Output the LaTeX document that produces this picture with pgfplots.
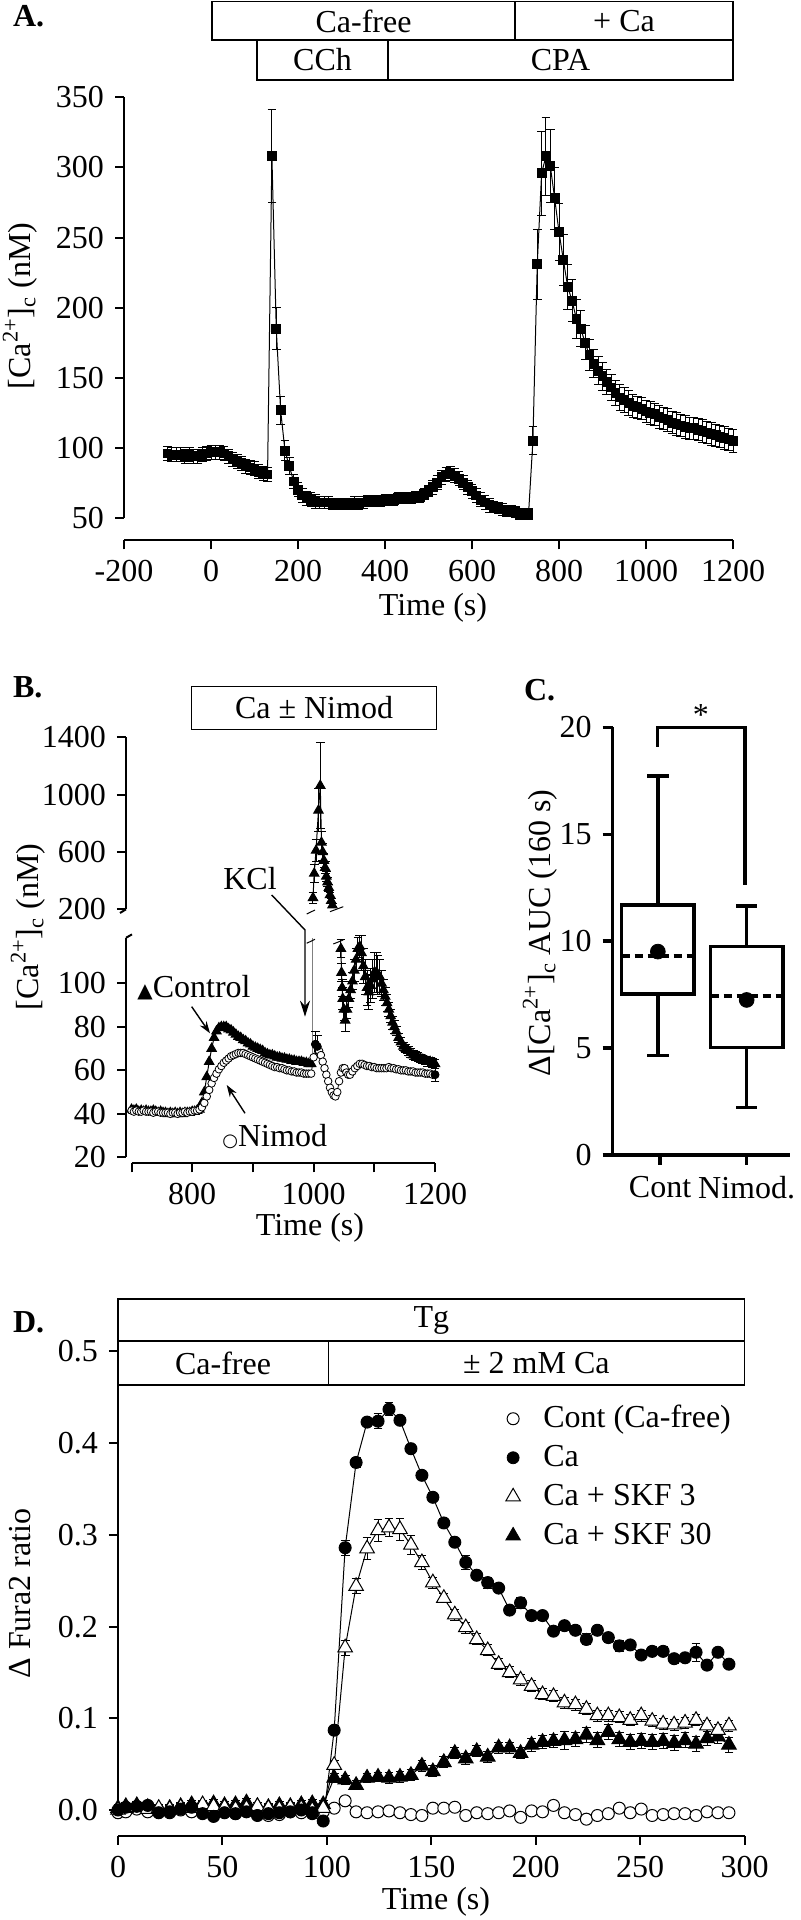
\documentclass[border=0pt]{standalone}
\usepackage{fontspec}
\setmainfont{Liberation Serif}
\newfontfamily\symf{DejaVu Sans}
\usepackage{pgfplots}
\usepackage{pgfplotstable}
\pgfplotsset{compat=1.18}
\usetikzlibrary{arrows.meta}

\pgfplotsset{
  sp/.style={
    scale only axis,
    axis lines=left,
    axis line style={-, line width=1pt},
    tick align=outside,
    major tick length=4.5pt,
    tick style={line width=1pt, black},
    /pgf/number format/assume math mode=true,
    /pgf/number format/1000 sep={},
    scaled ticks=false,
    anchor=south west,
  },
  eb/.style={
    error bars/y dir=both, error bars/y explicit,
    error bars/error bar style={line width=0.5pt, black, solid},
    error bars/error mark options={rotate=90, mark size=2.2pt, line width=0.5pt, black, solid},
  },
  bx/.style={black, line width=1.7pt, line join=miter, line cap=rect},
}

% Panel A
\pgfplotstableread{
t v e
-100 96 5
-90 95 5
-80 95 5
-70 95 5
-60 94 5
-50 95 5
-40 94 5
-30 94 5
-20 95 5
-10 96 5
0 97 5
10 97 5
20 97 5
30 96 5
40 94 5
50 92 5
60 90 5
70 89 5
80 87 5
90 86 5
100 85 5
110 83 5
120 82 5
130 81 5
140 308 33
150 185 15
160 127 10
170 98 7
180 87 6
190 76 5
200 70 5
210 66 5
220 64 5
230 63 5
240 62 5
250 61 4
260 61 4
270 61 4
280 60 4
290 60 4
300 60 4
310 60 4
320 60 4
330 61 4
340 60 4
350 61 4
360 62 4
370 62 4
380 62 4
390 62 4
400 63 4
410 63 4
420 63 4
430 64 4
440 64 4
450 64 4
460 64 4
470 65 4
480 65 4
490 67 4
500 69 4
510 72 5
520 75 5
530 79 5
540 81 5
550 82 5
560 80 5
570 78 5
580 75 5
590 72 5
600 69 5
610 66 5
620 63 5
630 61 5
640 59 5
650 58 4
660 57 4
670 56 4
680 55 4
690 55 4
700 54 4
710 53 4
720 53 4
730 53 4
740 105 10
750 231 25
760 296 30
770 308 28
780 301 26
790 278 22
800 254 20
810 234 18
820 215 16
830 205 15
840 192 14
850 185 13
860 175 12
870 166 11
880 160 10
890 155 10
900 151 10
910 147 9
920 143 9
930 139 9
940 136 9
950 134 9
960 132 9
970 130 8
980 129 8
990 128 8
1000 126 8
1010 125 8
1020 124 8
1030 122 8
1040 121 8
1050 120 8
1060 118 8
1070 117 8
1080 116 8
1090 115 8
1100 114 8
1110 114 8
1120 113 8
1130 112 8
1140 111 8
1150 110 8
1160 109 8
1170 108 8
1180 107 8
1190 106 8
1200 105 8
}\dataA

% Panel B: control, before KCl
\pgfplotstableread{
t v
700 42
704 41.5
708 42
712 41
716 41.5
720 41
724 41.5
728 41
732 41
736 41.5
740 41
744 40.5
748 41
752 40.5
756 40.5
760 40
764 40.5
768 40
772 40.5
776 40
780 40.5
784 40
788 40.5
792 40.5
796 40.5
800 41
804 41
808 41.5
812 42
816 45
820 50
824 57
828 64
832 70
836 75
840 78
844 79.5
848 80
852 80
856 80
860 79
864 78.5
868 77.5
872 76.5
876 75.5
880 75
884 74
888 73.5
892 72.5
896 72
900 71
904 70.5
908 70
912 69.5
916 69
920 68
924 67.5
928 67
932 67
936 66.5
940 66
944 66
948 65.5
952 65.5
956 65
960 65
964 64.5
968 64.5
972 64
976 64
980 64
984 63.5
988 63.5
992 63
996 63
}\dataBcA

% Panel B: control, KCl peak (upper axis)
\pgfplotstableread{
t v e
999 280 40
1001 450 60
1004 610 80
1008 890 150
1011 1063 300
1013 666 80
1015 600 60
1017 540 50
1019 490 40
1021 430 35
1023 390 30
1025 350 25
1027 300 20
1029 260 15
1031 228 10
}\dataBup

% Panel B: control, after KCl peak
\pgfplotstableread{
t v e
1045 116 4
1046 105 4
1047 98 4
1048 93 5
1050 88 5
1052 83 5
1055 88 4
1058 93 4
1061 97 4
1064 101 4
1067 106 5
1070 111 5
1073 116 5
1076 117 5
1079 114 8
1082 108 8
1085 103 8
1088 98 8
1091 96 8
1094 99 8
1097 102 9
1100 105 9
1103 105 9
1106 104 9
1109 103 8
1112 100 6
1115 97 5
1118 94 4
1121 91 4
1124 88 3
1127 85 3
1130 82 3
1133 80 3
1136 78 2
1140 75 2
1144 73 2
1148 71 2
1152 70 2
1156 69 2
1160 68 2
1164 67 2
1168 66.5 2
1172 66 2
1176 65.5 2
1180 65 2
1184 64.5 2
1188 64 2
1192 64 2
1196 63.5 2
1200 63 2
}\dataBcB

% Panel B: Nimod
\pgfplotstableread{
t v
700 41.5
704 41
708 41.5
712 41
716 41
720 41.5
724 41
728 41
732 41
736 40.5
740 41
744 41
748 40.5
752 40.5
756 40.5
760 40.5
764 40
768 40.5
772 40.5
776 40
780 40.5
784 40.5
788 41
792 40.5
796 41
800 41
804 41.5
808 41.5
812 42
816 43
820 45
824 48
828 51
832 54
836 56.5
840 58.5
844 60.5
848 62
852 63.5
856 64.5
860 65.5
864 66.5
868 67
872 67.5
876 68
880 68
884 68
888 67.5
892 67
896 66.5
900 66
904 65.5
908 65
912 64.5
916 64
920 63.5
924 63
928 62.5
932 62
936 61.5
940 61.5
944 61
948 61
952 60.5
956 60
960 60
964 59.5
968 59.5
972 59
976 59
980 59
984 58.5
988 58.5
992 58.5
996 58.5
1000 66
1003 72
1006 71
1009 69
1012 67
1015 64
1018 61
1021 58
1024 55
1027 52
1030 50
1033 48.5
1036 48
1039 50
1042 55
1045 59
1048 61
1051 61
1054 59
1057 58
1060 58
1064 59.5
1068 61
1072 62
1076 63
1080 63
1084 62.5
1088 62
1092 62
1096 61.5
1100 61.5
1104 61
1108 61
1112 61
1116 61
1120 61
1124 61.5
1128 61
1132 61
1136 60.5
1140 60.5
1144 60
1148 60
1152 60
1156 59.5
1160 59.5
1164 59.5
1168 59
1172 59
1176 59
1180 59
1184 58.5
1188 58.5
1192 58.5
1196 58
1200 58
}\dataBn

% Panel D
\pgfplotstableread{
t c ce ca cae s3 s3e s30 s30e
0 -0.003 0.004 0.000 0.004 0.000 0.004 0.002 0.004
3.75 -0.002 0.004 0.003 0.004 0.002 0.004 0.004 0.004
9.0 0.001 0.004 0.004 0.004 0.003 0.004 0.005 0.004
14.25 -0.002 0.004 0.005 0.004 0.001 0.004 0.003 0.004
19.5 -0.001 0.004 -0.003 0.004 0.002 0.004 0.001 0.004
24.75 -0.003 0.004 -0.002 0.004 0.001 0.004 0.002 0.004
30.0 0.000 0.004 0.001 0.004 0.003 0.004 0.004 0.004
35.25 -0.002 0.004 0.003 0.004 0.002 0.004 0.006 0.004
40.5 0.004 0.005 -0.004 0.004 0.006 0.004 0.005 0.004
45.75 -0.003 0.004 -0.007 0.004 0.004 0.004 0.007 0.004
51.0 0.000 0.004 -0.003 0.004 0.003 0.004 0.005 0.004
56.25 -0.004 0.004 -0.004 0.004 0.001 0.004 0.006 0.004
61.5 0.002 0.004 -0.002 0.004 0.002 0.004 0.008 0.004
66.75 -0.003 0.004 -0.006 0.004 0.004 0.004 0.004 0.004
72.0 -0.006 0.004 -0.004 0.004 0.002 0.004 0.003 0.004
77.25 -0.005 0.004 -0.003 0.004 0.001 0.004 0.005 0.004
82.5 -0.002 0.004 -0.002 0.004 0.003 0.004 0.004 0.004
87.75 -0.003 0.004 0.000 0.004 0.002 0.004 0.006 0.004
93.0 -0.004 0.005 -0.003 0.004 0.000 0.004 0.007 0.004
98.25 -0.002 0.005 -0.012 0.004 0.002 0.004 0.006 0.004
103.5 0.002 0.004 0.087 0.005 0.049 0.005 0.035 0.005
108.75 0.010 0.005 0.286 0.008 0.177 0.008 0.033 0.005
114.0 -0.002 0.004 0.379 0.005 0.244 0.008 0.027 0.005
119.25 -0.003 0.004 0.423 0.005 0.285 0.012 0.035 0.005
124.5 -0.002 0.004 0.424 0.008 0.305 0.012 0.036 0.005
129.75 -0.001 0.004 0.437 0.007 0.308 0.010 0.035 0.006
135.0 -0.003 0.004 0.425 0.005 0.306 0.012 0.036 0.006
140.25 -0.005 0.004 0.394 0.005 0.289 0.010 0.038 0.006
145.5 -0.006 0.004 0.365 0.005 0.270 0.008 0.048 0.006
150.75 0.002 0.004 0.341 0.005 0.248 0.006 0.042 0.006
156.0 0.002 0.004 0.313 0.005 0.231 0.005 0.052 0.006
161.25 0.003 0.004 0.292 0.005 0.213 0.006 0.062 0.006
166.5 -0.006 0.004 0.270 0.008 0.199 0.006 0.056 0.006
171.75 -0.003 0.004 0.256 0.005 0.186 0.006 0.064 0.006
177.0 -0.004 0.004 0.248 0.006 0.174 0.006 0.058 0.006
182.25 -0.003 0.004 0.242 0.005 0.159 0.006 0.068 0.006
187.5 -0.001 0.004 0.218 0.005 0.150 0.006 0.068 0.006
192.75 -0.008 0.004 0.226 0.006 0.142 0.006 0.062 0.006
198.0 -0.001 0.004 0.212 0.005 0.135 0.006 0.071 0.007
203.25 -0.002 0.004 0.212 0.005 0.126 0.006 0.074 0.007
208.5 0.005 0.004 0.195 0.005 0.124 0.006 0.075 0.007
213.75 -0.003 0.004 0.201 0.005 0.117 0.006 0.076 0.010
219.0 -0.005 0.004 0.196 0.005 0.115 0.006 0.077 0.008
224.25 -0.010 0.004 0.186 0.006 0.110 0.006 0.082 0.008
229.5 -0.006 0.004 0.196 0.005 0.103 0.006 0.076 0.008
234.75 -0.004 0.004 0.188 0.005 0.103 0.006 0.085 0.008
240.0 0.002 0.004 0.179 0.006 0.101 0.006 0.077 0.008
245.25 -0.003 0.004 0.180 0.005 0.098 0.006 0.074 0.008
250.5 0.001 0.004 0.169 0.005 0.103 0.006 0.075 0.008
255.75 -0.006 0.004 0.173 0.005 0.097 0.006 0.074 0.008
261.0 -0.005 0.004 0.173 0.005 0.094 0.006 0.075 0.008
266.25 -0.004 0.004 0.165 0.005 0.093 0.006 0.073 0.008
271.5 -0.004 0.004 0.166 0.005 0.095 0.006 0.076 0.008
276.75 -0.006 0.004 0.172 0.010 0.098 0.006 0.072 0.008
282.0 -0.002 0.004 0.158 0.005 0.092 0.006 0.078 0.008
287.25 -0.003 0.004 0.172 0.005 0.087 0.006 0.080 0.008
292.5 -0.003 0.004 0.159 0.005 0.092 0.006 0.071 0.008
}\dataD

\begin{document}
\fontsize{16}{19}\selectfont
\begin{tikzpicture}
\path[use as bounding box] (0pt,0pt) rectangle (400pt,960pt);

% ================= Panel A =================
\node[anchor=west, font=\bfseries] at (1pt,952pt) {A.};
\begin{scope}[line width=0.6pt]
\draw (106pt,959.4pt) rectangle (257.5pt,940pt);
\draw (257.5pt,959.4pt) rectangle (366.5pt,940pt);
\draw (128.5pt,940pt) rectangle (194pt,920pt);
\draw (194pt,940pt) rectangle (366.5pt,920pt);
\end{scope}
\node at (181.75pt,949.5pt) {Ca-free};
\node at (312pt,949.5pt) {+ Ca};
\node at (161.25pt,930pt) {CCh};
\node at (280.25pt,930pt) {CPA};

\begin{axis}[sp, at={(62pt,701pt)}, width=304.5pt, height=210.3pt,
  xmin=-200, xmax=1200, ymin=50, ymax=350,
  xtick={-200,0,200,400,600,800,1000,1200},
  ytick={50,100,150,200,250,300,350},
  axis x line shift=11.25pt, clip=false]
\addplot[black, line width=0.5pt, mark=square*, mark size=2.2pt, eb]
  table[x=t, y=v, y error=e] {\dataA};
\end{axis}
\node[rotate=90] at (10pt,807pt) {[Ca\textsuperscript{2+}]\textsubscript{c} (nM)};
\node at (216.5pt,656pt) {Time (s)};

% ================= Panel B =================
\node[anchor=west, font=\bfseries] at (1pt,616.5pt) {B.};
\draw[line width=0.6pt] (95.8pt,616.65pt) rectangle (218.3pt,595.35pt);
\node at (157pt,606pt) {Ca ± Nimod};

\begin{axis}[sp, at={(65.75pt,505.35pt)}, width=151.75pt, height=86pt,
  xmin=700, xmax=1200, ymin=200, ymax=1400,
  axis x line=none, ytick={200,600,1000,1400},
  axis y line shift=2.75pt, clip=false]
\addplot[black, line width=0.5pt, mark=triangle*, mark size=2.7pt, eb]
  table[x=t, y=v, y error=e] {\dataBup};
\end{axis}

\begin{axis}[sp, at={(65.75pt,381.35pt)}, width=151.75pt, height=109.75pt,
  xmin=700, xmax=1200, ymin=20, ymax=121,
  ytick={20,40,60,80,100},
  xtick={700,800,900,1000,1100,1200}, xticklabels={,800,,1000,,1200},
  axis x line shift=3pt, axis y line shift=2.75pt, clip=false]
\addplot[gray, line width=0.4pt] coordinates {(998,64) (998,121)};
\addplot[black, line width=0.5pt, mark=triangle*, mark size=2.7pt]
  table[x=t, y=v] {\dataBcA};
\addplot[black, line width=0.5pt, mark=triangle*, mark size=2.7pt, eb]
  table[x=t, y=v, y error=e] {\dataBcB};
\addplot[black, line width=0.4pt, mark=*, mark size=1.9pt, mark options={fill=white, line width=0.4pt}]
  table[x=t, y=v] {\dataBn};
\addplot[black, only marks, mark=none, eb] coordinates {(1003,72) +- (0,6) (1006,71) +- (0,5) (1200,58) +- (0,3)};
\end{axis}

% axis break marks
\draw[line width=1pt] (63pt,505.35pt) -- (60pt,503.5pt);
\draw[line width=1pt] (63pt,491.1pt) -- (66pt,492.8pt);
\begin{scope}[line width=0.5pt]
\draw (153.35pt,503pt) -- (157.5pt,505pt);
\draw (165pt,504.15pt) -- (171.65pt,506.65pt);
\draw (153.35pt,488.35pt) -- (157.5pt,490.35pt);
\draw (166.65pt,488pt) -- (171.65pt,490pt);
\end{scope}

\node at (125pt,520.5pt) {KCl};
\draw[line width=0.7pt, -{Stealth[length=8pt,width=5pt]}] (135.85pt,512.5pt) -- (152.5pt,495pt) -- (152.5pt,451.65pt);
\node[anchor=west, inner sep=0pt] at (68.5pt,466pt) {{\symf\fontsize{10}{10}\selectfont ▲}Control};
\draw[line width=0.7pt, -{Stealth[length=6pt,width=4pt]}] (95.85pt,456.65pt) -- (105pt,443.35pt);
\node[anchor=west, inner sep=0pt] at (111pt,391.5pt) {{\symf\fontsize{9}{9}\selectfont ○}Nimod};
\draw[line width=0.7pt, -{Stealth[length=6pt,width=4pt]}] (122.5pt,403.35pt) -- (113.35pt,417.5pt);

\node[rotate=90] at (14pt,496.5pt) {[Ca\textsuperscript{2+}]\textsubscript{c} (nM)};
\node at (155pt,346pt) {Time (s)};

% ================= Panel C =================
\node[anchor=west, font=\bfseries] at (256.5pt,615pt) {C.};
\begin{axis}[sp, at={(306.35pt,382.5pt)}, width=88.65pt, height=213.85pt,
  xmin=0.454, xmax=2.5, ymin=0, ymax=20,
  ytick={0,5,10,15,20}, xtick={1,2}, xticklabels={Cont,Nimod.},
  axis line style={line width=1.7pt}, tick style={line width=1.7pt},
  major tick length=5pt, clip=false]
% Cont: whiskers 4.65 / 17.73, quartiles 7.53 / 11.69, median 9.31, mean 9.51
\addplot[bx] coordinates {(0.558,7.53) (1.392,7.53) (1.392,11.69) (0.558,11.69) (0.558,7.53)};
\addplot[bx] coordinates {(0.975,11.69) (0.975,17.73)};
\addplot[bx] coordinates {(0.87,17.73) (1.08,17.73)};
\addplot[bx] coordinates {(0.975,7.53) (0.975,4.65)};
\addplot[bx] coordinates {(0.87,4.65) (1.08,4.65)};
\addplot[bx, line cap=butt, dash pattern=on 4pt off 2.5pt] coordinates {(0.558,9.31) (1.392,9.31)};
% Nimod: whiskers 2.21 / 11.65, quartiles 5.02 / 9.74, median 7.44, mean 7.25
\addplot[bx] coordinates {(1.583,5.02) (2.417,5.02) (2.417,9.74) (1.583,9.74) (1.583,5.02)};
\addplot[bx] coordinates {(2,9.74) (2,11.65)};
\addplot[bx] coordinates {(1.895,11.65) (2.105,11.65)};
\addplot[bx] coordinates {(2,5.02) (2,2.21)};
\addplot[bx] coordinates {(1.895,2.21) (2.105,2.21)};
\addplot[bx, line cap=butt, dash pattern=on 4pt off 2.5pt] coordinates {(1.583,7.44) (2.417,7.44)};
\addplot[black, only marks, mark=*, mark size=3.7pt] coordinates {(0.975,9.51) (2,7.25)};
\draw[line width=1.6pt] (axis cs:0.973,19.1) |- (axis cs:1.98,20) -- (axis cs:1.98,12.63);
\node at (axis cs:1.47,20.55) {*};
\end{axis}
\node[rotate=90] at (270pt,493.5pt) {Δ[Ca\textsuperscript{2+}]\textsubscript{c} AUC (160 s)};

% ================= Panel D =================
\node[anchor=west, font=\bfseries] at (1pt,298.75pt) {D.};
\begin{scope}[line width=0.6pt]
\draw (59pt,310.5pt) rectangle (372.3pt,289.5pt);
\draw (59pt,289.5pt) rectangle (164.1pt,267.5pt);
\draw (164.1pt,289.5pt) rectangle (372.3pt,267.5pt);
\end{scope}
\node at (215.65pt,300pt) {Tg};
\node at (111.5pt,278.5pt) {Ca-free};
\node at (268.2pt,278.5pt) {± 2 mM Ca};

\begin{axis}[sp, at={(59pt,55pt)}, width=313.3pt, height=229.25pt,
  xmin=0, xmax=300, ymin=0, ymax=0.5,
  xtick={0,50,100,150,200,250,300},
  ytick={0,0.1,0.2,0.3,0.4,0.5},
  yticklabel style={/pgf/number format/fixed, /pgf/number format/fixed zerofill, /pgf/number format/precision=1},
  axis x line shift=13pt, clip=false,
  legend style={at={(axis cs:185.5,0.444)}, anchor=north west, draw=none, fill=none,
    inner sep=0pt, row sep=4pt,
    nodes={inner sep=0pt, text height=12pt, text depth=3.5pt},
    /tikz/every odd column/.append style={column sep=11.5pt}},
  legend cell align=left]
\addlegendimage{only marks, mark=*, mark size=3pt, mark options={fill=white, draw=black, line width=0.5pt}}
\addlegendentry{Cont (Ca-free)}
\addlegendimage{only marks, mark=*, mark size=3pt, black}
\addlegendentry{Ca}
\addlegendimage{only marks, mark=triangle*, mark size=4.2pt, mark options={fill=white, draw=black, line width=0.5pt}}
\addlegendentry{Ca + SKF 3}
\addlegendimage{only marks, mark=triangle*, mark size=4.2pt, black}
\addlegendentry{Ca + SKF 30}
\addplot[forget plot, black, line width=0.5pt, mark=*, mark size=3pt, mark options={fill=white, line width=0.5pt}, eb]
  table[x=t, y=c, y error=ce] {\dataD};
\addplot[forget plot, black, line width=0.5pt, mark=triangle*, mark size=4.2pt, eb]
  table[x=t, y=s30, y error=s30e] {\dataD};
\addplot[forget plot, black, line width=0.5pt, mark=triangle*, mark size=4.2pt, mark options={fill=white, line width=0.5pt}, eb]
  table[x=t, y=s3, y error=s3e] {\dataD};
\addplot[forget plot, black, line width=0.5pt, mark=*, mark size=3pt, eb]
  table[x=t, y=ca, y error=cae] {\dataD};
\end{axis}
\node[rotate=90] at (10pt,163.25pt) {Δ Fura2 ratio};
\node at (218pt,9pt) {Time (s)};

\end{tikzpicture}
\end{document}
